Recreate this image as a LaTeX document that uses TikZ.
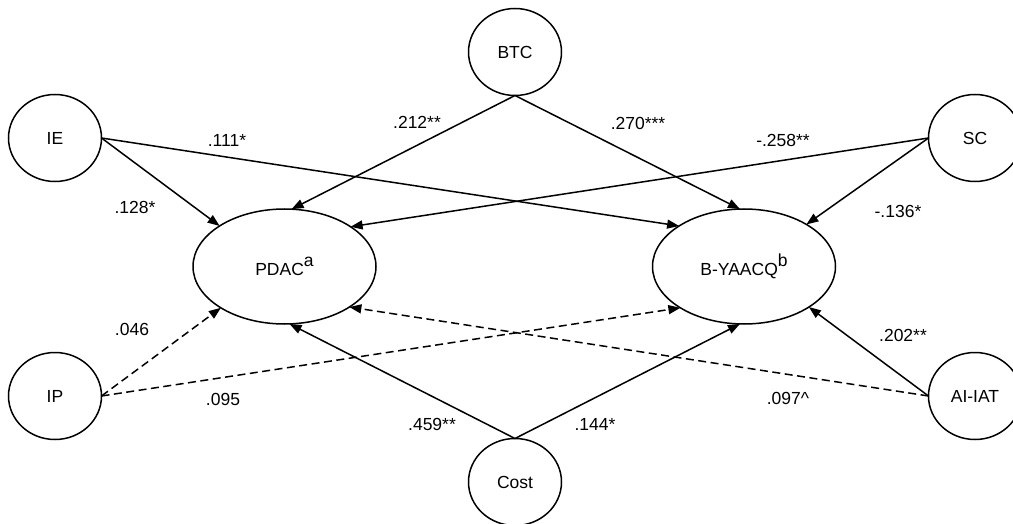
\documentclass[tikz,border=0pt]{standalone}
\usepackage{fontspec}
\setmainfont{Liberation Sans}
\usetikzlibrary{shapes.geometric,arrows.meta}
\newcommand{\supl}[1]{\raisebox{9pt}{#1}}
\begin{document}
\begin{tikzpicture}[x=1pt,y=-1pt,
  lat/.style={draw,ellipse,line width=1.5pt,minimum width=93pt,minimum height=87pt,inner sep=0pt,outer sep=0pt,font=\fontsize{17.5}{20}\selectfont},
  big/.style={draw,ellipse,line width=1.5pt,minimum width=183pt,minimum height=115pt,inner sep=0pt,outer sep=0pt,font=\fontsize{17.5}{20}\selectfont},
  path/.style={line width=1.5pt,-{Triangle[length=12pt,width=9pt]}},
  dpath/.style={path,dash pattern=on 8pt off 4.5pt},
  lbl/.style={inner sep=0pt,font=\fontsize{17.5}{20}\selectfont}]
\useasboundingbox (0,0) rectangle (1013,524);
\node[lat] (btc) at (515,52) {BTC};
\node[lat] (ie) at (55,138) {IE};
\node[lat] (sc) at (975,138) {SC};
\node[lat] (ip) at (55,396) {IP};
\node[lat] (ai) at (975,396) {AI-IAT};
\node[lat] (cost) at (515,482) {Cost};
\node[big] (pdac) at (284.5,266.5) {PDAC\supl{a}};
\node[big] (by) at (744,266.5) {B-YAACQ\supl{b}};
% solid paths
\draw[path] (btc.south) -- (pdac.83);
\draw[path] (btc.south) -- (by.94);
\draw[path] (ie.east) -- (pdac.148);
\draw[path] (ie.east) -- (by.148.5);
\draw[path] (sc.west) -- (pdac.31);
\draw[path] (sc.west) -- (by.34);
\draw[path] (ai.west) -- (by.328);
\draw[path] (cost.north) -- (pdac.275);
\draw[path] (cost.north) -- (by.266);
% dashed paths
\draw[dpath] (ip.east) -- (pdac.213);
\draw[dpath] (ip.east) -- (by.213);
\draw[dpath] (ai.west) -- (pdac.328);
% labels
\node[lbl] (l1) at (227,140) {.111*};
\node[lbl] (l2) at (135,207) {.128*};
\node[lbl] (l3) at (417,122) {.212**};
\node[lbl] (l4) at (638,123) {.270***};
\node[lbl] (l5) at (783,140) {-.258**};
\node[lbl] (l6) at (898,211) {-.136*};
\node[lbl] (l7) at (132,329) {.046};
\node[lbl] (l8) at (223,399) {.095};
\node[lbl] (l9) at (432,424) {.459**};
\node[lbl] (l10) at (595,424) {.144*};
\node[lbl] (l11) at (903,335) {.202**};
\node[lbl] (l12) at (788,398) {.097\textasciicircum};
\end{tikzpicture}
\end{document}
